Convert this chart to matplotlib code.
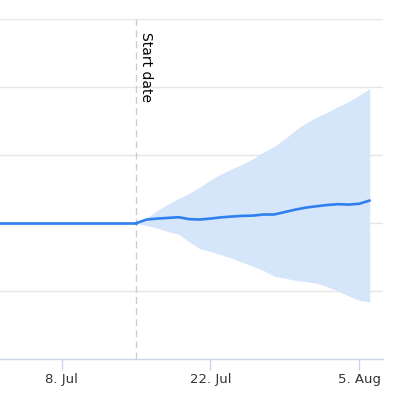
import numpy as np
import pandas as pd
import matplotlib
matplotlib.use('Agg')
import matplotlib.pyplot as plt
import matplotlib.dates as mdates

# historia (plaska linia do daty startu)
hist_dates = pd.date_range('2024-06-30', '2024-07-15', freq='D')
hist_values = [100] * len(hist_dates)

# prognoza od daty startu
fc_dates = pd.date_range('2024-07-15', '2024-08-06', freq='D')
fc_mean = [100, 102.7, 103.4, 103.9, 104.4, 103.0, 102.7, 103.4, 104.3, 104.9,
           105.4, 105.6, 106.4, 106.4, 108.2, 110.0, 111.5, 112.5, 113.4, 114.0,
           113.7, 114.3, 116.7]
fc_upper = [100, 104.1, 109.3, 114.1, 118.2, 122.0, 126.7, 131.8, 136.3, 140.0,
            143.3, 147.4, 152.4, 156.6, 162.1, 168.4, 173.9, 178.0, 181.7, 185.8,
            189.5, 194.2, 199.1]
fc_lower = [100, 98.2, 96.4, 93.8, 92.0, 86.4, 81.2, 79.2, 76.8, 74.2,
            71.3, 68.3, 65.2, 60.9, 59.5, 58.0, 56.9, 55.8, 53.2, 50.2,
            46.5, 43.2, 42.1]

start_date = pd.Timestamp('2024-07-15')
tick_dates = pd.to_datetime(['2024-07-08', '2024-07-22', '2024-08-05'])

fig = plt.figure(figsize=(3.99, 4.17), dpi=100)
ax = fig.add_axes([0, 58 / 417, 383 / 399, (359 - 19.5) / 417])

ax.fill_between(fc_dates, fc_lower, fc_upper, color='#d5e5fa', linewidth=0, zorder=1)
ax.plot(hist_dates, hist_values, color='#2f80ed', linewidth=1.9, zorder=3)
ax.plot(fc_dates, fc_mean, color='#2f80ed', linewidth=1.9, zorder=3,
        solid_capstyle='round')

ax.axvline(start_date, color='#c8ccd6', linestyle=(0, (5, 3)), linewidth=1, zorder=2)
ax.text(start_date + pd.Timedelta(hours=6), 241, 'Start date', rotation=-90,
        ha='left', va='top', fontsize=10, color='#000000')

x0 = pd.Timestamp('2024-07-08') - pd.Timedelta(days=5.81)
x1 = pd.Timestamp('2024-07-08') + pd.Timedelta(days=30.25)
ax.set_xlim(x0, x1)
ax.set_ylim(0, 250)

ax.set_yticks([50, 100, 150, 200, 250])
ax.yaxis.grid(True, color='#e6e6e6', linewidth=1)
ax.set_axisbelow(True)
ax.tick_params(axis='y', left=False, labelleft=False)

ax.set_xticks(tick_dates)
ax.xaxis.set_major_formatter(mdates.DateFormatter('%-d. %b'))
ax.tick_params(axis='x', length=8, width=1, color='#ccd6eb', labelsize=9.5,
               labelcolor='#333333', pad=2)

for side in ['top', 'left', 'right']:
    ax.spines[side].set_visible(False)
ax.spines['bottom'].set_color('#ccd6eb')
ax.spines['bottom'].set_linewidth(1)

fig.savefig('out.png', dpi=100)
